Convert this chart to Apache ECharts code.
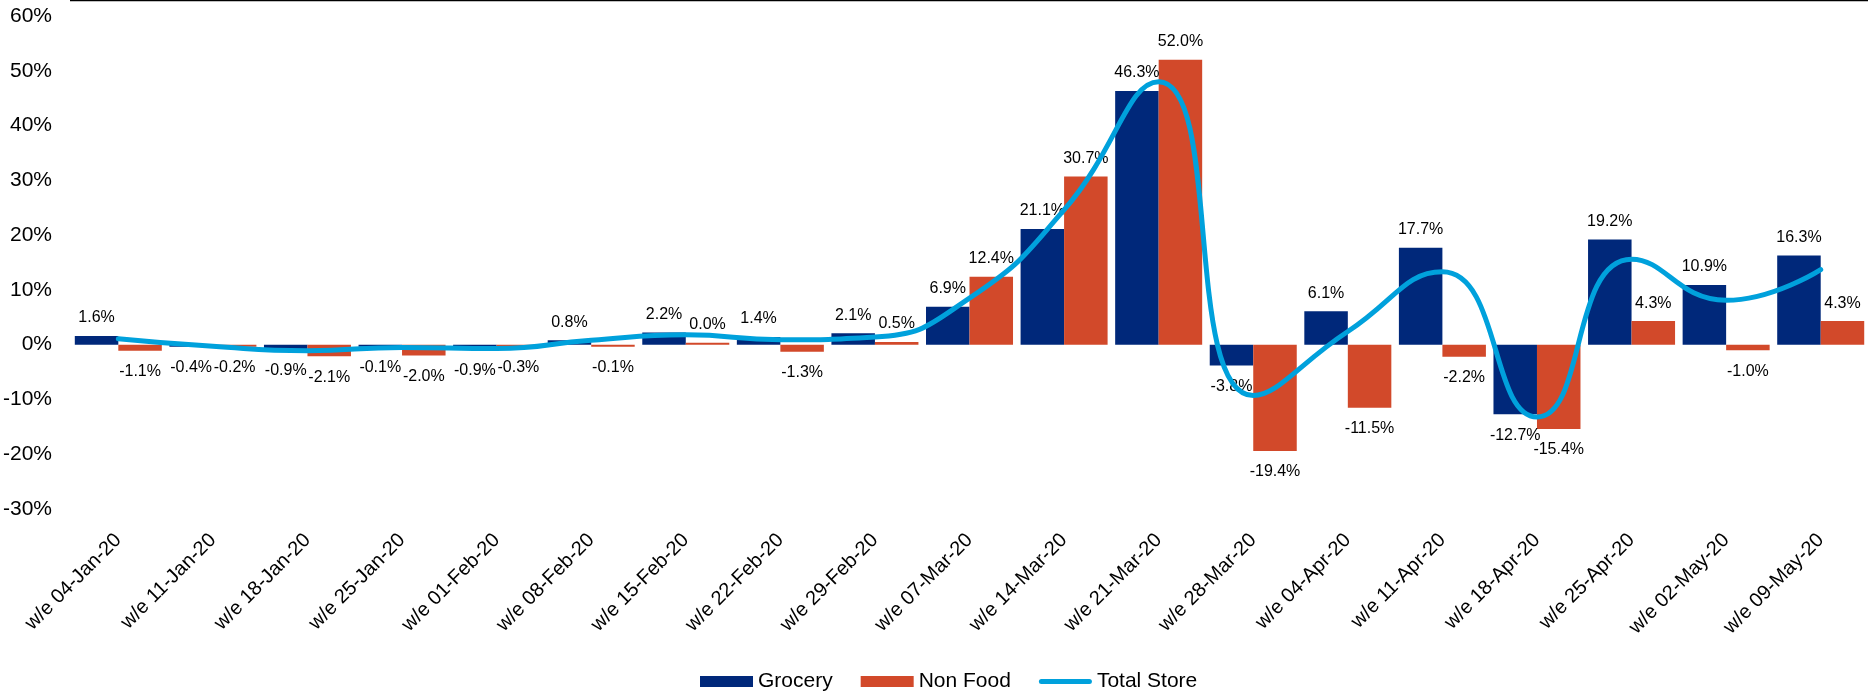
<!DOCTYPE html>
<html>
<head>
<meta charset="utf-8">
<script src="https://cdn.jsdelivr.net/npm/echarts@6/dist/echarts.min.js"></script>
<style>
html,body{margin:0;padding:0;background:#fff;}
#c{width:1868px;height:693px;}
</style>
</head>
<body>
<div id="c"></div>
<script>
const categories = ['w/e 04-Jan-20','w/e 11-Jan-20','w/e 18-Jan-20','w/e 25-Jan-20','w/e 01-Feb-20','w/e 08-Feb-20','w/e 15-Feb-20','w/e 22-Feb-20','w/e 29-Feb-20','w/e 07-Mar-20','w/e 14-Mar-20','w/e 21-Mar-20','w/e 28-Mar-20','w/e 04-Apr-20','w/e 11-Apr-20','w/e 18-Apr-20','w/e 25-Apr-20','w/e 02-May-20','w/e 09-May-20'];
const grocery = [1.6, -0.4, -0.9, -0.1, -0.9, 0.8, 2.2, 1.4, 2.1, 6.9, 21.1, 46.3, -3.8, 6.1, 17.7, -12.7, 19.2, 10.9, 16.3];
const nonFood = [-1.1, -0.2, -2.1, -2.0, -0.3, -0.1, 0.0, -1.3, 0.5, 12.4, 30.7, 52.0, -19.4, -11.5, -2.2, -15.4, 4.3, -1.0, 4.3];
const totalStore = [1.1, -0.3, -1.1, -0.5, -0.7, 0.8, 1.8, 0.9, 1.4, 8.5, 24.6, 48.0, -9.3, 2.4, 13.3, -13.2, 15.6, 8.1, 13.7];
const yTicks = [-30, -20, -10, 0, 10, 20, 30, 40, 50, 60];

const FONT = "'Liberation Sans', Arial, sans-serif";

function barData(arr) {
  return arr.map(v => ({
    value: v,
    label: { position: v < 0 ? 'bottom' : 'top', distance: v < 0 ? 13 : 10 }
  }));
}

const chart = echarts.init(document.getElementById('c'), null, {renderer: 'canvas'});
chart.setOption({
  backgroundColor: '#fff',
  animation: false,
  textStyle: { fontFamily: FONT },
  graphic: [{
    type: 'line',
    shape: { x1: 70, y1: 0.5, x2: 1868, y2: 0.5 },
    style: { stroke: '#000', lineWidth: 1.5 }
  }],
  grid: { left: 71, width: 1807, top: 16, bottom: 184, containLabel: false },
  legend: {
    left: 695,
    top: 666,
    itemWidth: 53,
    itemHeight: 11,
    itemGap: 28,
    textStyle: { fontFamily: FONT, fontSize: 21, color: '#000', padding: [0, 0, 0, 0] },
    data: [
      { name: 'Grocery', icon: 'rect' },
      { name: 'Non Food', icon: 'rect' },
      { name: 'Total Store', icon: 'path://M0,0 M0,11 M2.5,3 L50.5,3 A2.5,2.5 0 0 1 50.5,8 L2.5,8 A2.5,2.5 0 0 1 2.5,3 Z', itemStyle: { color: '#00A1DC' } }
    ]
  },
  xAxis: {
    type: 'category',
    data: categories,
    axisLine: { show: false, onZero: false },
    axisTick: { show: false },
    splitLine: { show: false },
    axisLabel: {
      rotate: 45,
      interval: 0,
      margin: 28,
      fontSize: 20,
      fontFamily: FONT,
      color: '#000'
    }
  },
  yAxis: {
    type: 'value',
    min: yTicks[0],
    max: yTicks[yTicks.length - 1],
    interval: 10,
    axisLine: { show: false },
    axisTick: { show: false },
    splitLine: { show: false },
    axisLabel: {
      margin: 19,
      fontSize: 21,
      fontFamily: FONT,
      color: '#000',
      formatter: v => v + '%'
    }
  },
  series: [
    {
      name: 'Grocery',
      type: 'bar',
      data: barData(grocery),
      barGap: '0%',
      barCategoryGap: '8%',
      barMinHeight: 2,
      itemStyle: { color: '#00287A' },
      label: { show: true, fontSize: 16, fontFamily: FONT, color: '#000', formatter: p => p.value.toFixed(1) + '%' }
    },
    {
      name: 'Non Food',
      type: 'bar',
      data: barData(nonFood),
      barGap: '0%',
      barCategoryGap: '8%',
      barMinHeight: 2,
      itemStyle: { color: '#D2492A' },
      label: { show: true, fontSize: 16, fontFamily: FONT, color: '#000', formatter: p => p.value.toFixed(1) + '%' }
    },
    {
      name: 'Total Store',
      type: 'line',
      data: totalStore,
      smooth: 0.5,
      symbol: 'none',
      z: 5,
      itemStyle: { color: '#00A1DC' },
      lineStyle: { color: '#00A1DC', width: 5, cap: 'round', join: 'round' }
    }
  ]
});
</script>
</body>
</html>
